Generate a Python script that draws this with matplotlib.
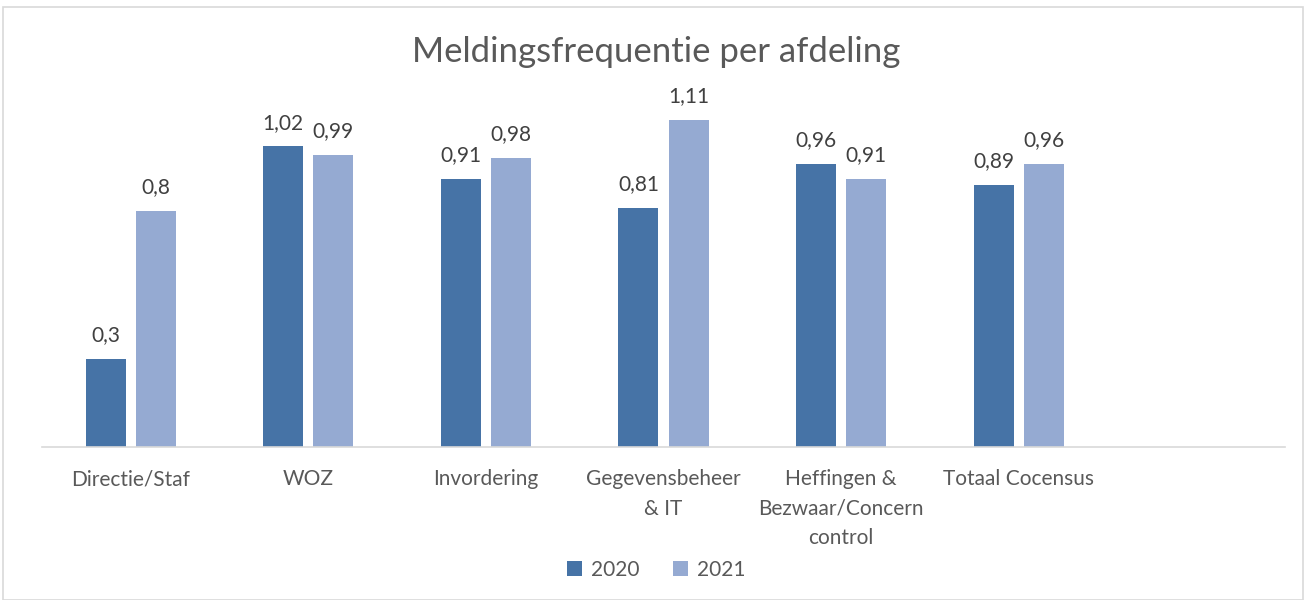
import matplotlib
matplotlib.use("Agg")
import matplotlib.pyplot as plt
from matplotlib.patches import Rectangle
import numpy as np

categories = ["Directie/Staf", "WOZ", "Invordering", "Gegevensbeheer\n& IT",
              "Heffingen &\nBezwaar/Concern\ncontrol", "Totaal Cocensus"]
series_names = ["2020", "2021"]
values_2020 = [0.3, 1.02, 0.91, 0.81, 0.96, 0.89]
values_2021 = [0.8, 0.99, 0.98, 1.11, 0.91, 0.96]
title = "Meldingsfrequentie per afdeling"

c2020 = "#4673A6"
c2021 = "#95AAD2"
txt = "#595959"

plt.rcParams['font.family'] = ['Lato', 'DejaVu Sans']

W, H = 1306, 600
fig = plt.figure(figsize=(W / 100, H / 100), dpi=100)
fig.patches.append(Rectangle((3 / W, 0), (1303 - 3) / W, (600 - 7) / H,
                             transform=fig.transFigure, fill=False,
                             edgecolor="#d9d9d9", linewidth=1.2))

left, right = 42, 1285
bottom_px, top_px = 447, 97
ax = fig.add_axes([left / W, 1 - bottom_px / H, (right - left) / W, (bottom_px - top_px) / H])

n_slots = 7
x = np.arange(len(categories))
bw = 0.225
off = 0.141
b1 = ax.bar(x - off, values_2020, bw, color=c2020, label=series_names[0])
b2 = ax.bar(x + off, values_2021, bw, color=c2021, label=series_names[1])

for bars, vals in ((b1, values_2020), (b2, values_2021)):
    for rect, v in zip(bars, vals):
        ax.annotate(f"{v:g}".replace(".", ","),
                    (rect.get_x() + rect.get_width() / 2, rect.get_height()),
                    xytext=(0, 10), textcoords="offset points",
                    ha="center", va="bottom", fontsize=15, color="#404040")

ax.set_xlim(-0.5, n_slots - 0.5)
ax.set_ylim(0, 1.188)
for s in ("top", "right", "left"):
    ax.spines[s].set_visible(False)
ax.spines["bottom"].set_color("#d9d9d9")
ax.spines["bottom"].set_linewidth(1.2)
ax.set_yticks([])
ax.set_xticks(x)
ax.set_xticklabels(categories, fontsize=15, color=txt, linespacing=1.6)
ax.tick_params(axis="x", length=0, pad=16)

fig.text(656 / W, 1 - 52 / H, title, ha="center", va="center", fontsize=25, color=txt)

fig.legend(handles=[b1, b2], labels=series_names, loc="center",
           bbox_to_anchor=(656 / W, 1 - 570 / H), ncol=2, frameon=False,
           fontsize=15, handlelength=0.75, handleheight=0.75, handletextpad=0.4,
           columnspacing=1.6, labelcolor=txt)

fig.savefig("out.png", dpi=100)
